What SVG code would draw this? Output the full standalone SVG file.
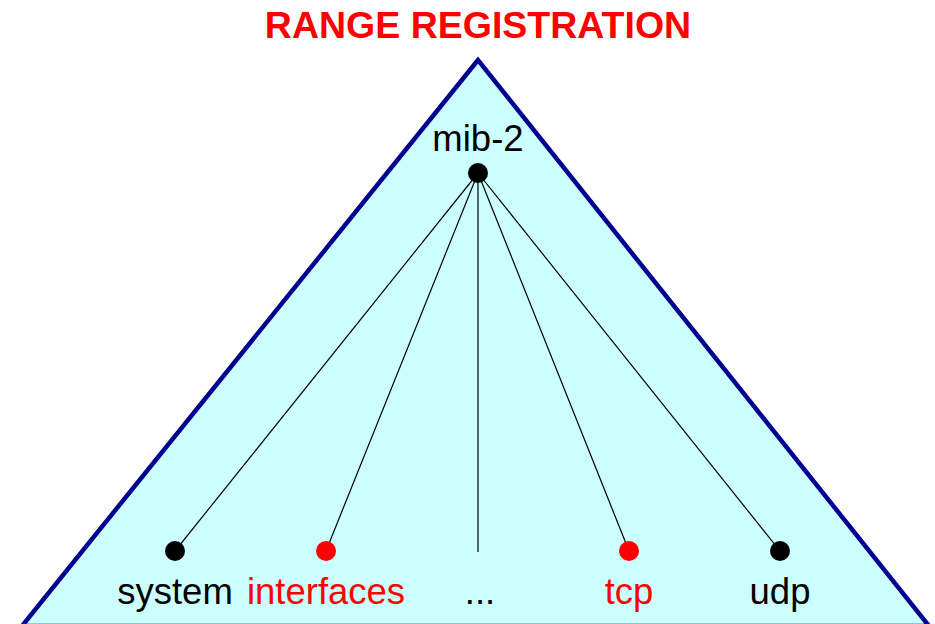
<svg xmlns="http://www.w3.org/2000/svg" width="935" height="624" viewBox="0 0 935 624">
<style>
.lbl{font-family:"Liberation Sans",Arial,sans-serif;font-size:36.5px;text-anchor:middle}
.red{fill:#ff0000}
.blk{fill:#000000}
.edge{stroke:#000;stroke-width:1.2;fill:none}
</style>
<rect width="935" height="624" fill="#ffffff"/>
<text x="478" y="38" font-family="Liberation Sans,Arial,sans-serif" font-size="37.5" font-weight="bold" fill="#ff0000" text-anchor="middle">RANGE REGISTRATION</text>
<polygon id="range" points="478,60 22,626 929,626" fill="#ccffff" stroke="#000090" stroke-width="4.5" stroke-linejoin="miter"/>
<g id="connectors">
<line class="edge" x1="478" y1="173" x2="175" y2="551"/>
<line class="edge" x1="478" y1="173" x2="326" y2="551"/>
<line class="edge" x1="478" y1="173" x2="478" y2="552"/>
<line class="edge" x1="478" y1="173" x2="629" y2="551"/>
<line class="edge" x1="478" y1="173" x2="780" y2="551"/>
</g>
<g id="mib-2">
<circle cx="478" cy="173" r="10" class="blk"/>
<text x="478" y="151" class="lbl blk">mib-2</text>
</g>
<g id="system">
<circle cx="175" cy="551" r="10" class="blk"/>
<text x="175" y="604" class="lbl blk">system</text>
</g>
<g id="interfaces">
<circle cx="326" cy="551" r="10" class="red"/>
<text x="326" y="604" class="lbl red">interfaces</text>
</g>
<g id="ellipsis">
<text x="480" y="604" class="lbl blk">...</text>
</g>
<g id="tcp">
<circle cx="629" cy="551" r="10" class="red"/>
<text x="629" y="604" class="lbl red">tcp</text>
</g>
<g id="udp">
<circle cx="780" cy="551" r="10" class="blk"/>
<text x="780" y="604" class="lbl blk">udp</text>
</g>
</svg>
